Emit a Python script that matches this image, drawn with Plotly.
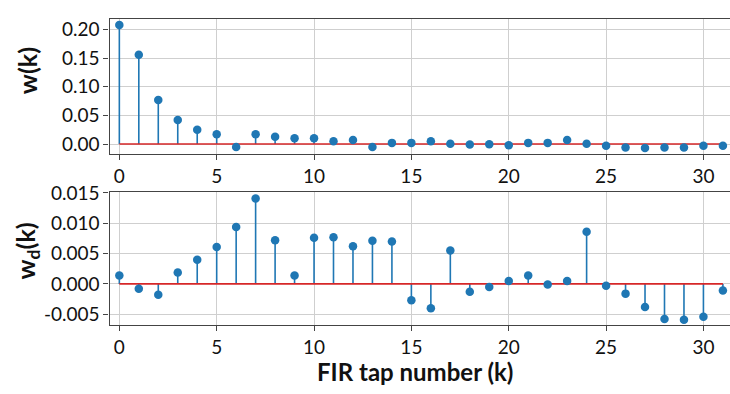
import plotly.graph_objects as go

k = list(range(32))
w = [0.208, 0.156, 0.077, 0.042, 0.025, 0.017, -0.005, 0.017, 0.0126, 0.010,
     0.010, 0.005, 0.007, -0.005, 0.002, 0.002, 0.005, 0.0006, -0.001, -0.0006,
     -0.002, 0.002, 0.002, 0.007, 0.0006, -0.003, -0.006, -0.007, -0.006, -0.006,
     -0.003, -0.003]
wd = [0.0014, -0.0008, -0.0018, 0.0019, 0.0040, 0.0061, 0.0094, 0.0141, 0.0072, 0.0014,
      0.0076, 0.0077, 0.0062, 0.0071, 0.0070, -0.0027, -0.0040, 0.0055, -0.0013, -0.0005,
      0.0005, 0.0014, -0.0001, 0.0005, 0.0086, -0.0003, -0.0016, -0.0038, -0.0058, -0.0059,
      -0.0054, -0.0011]

x_ticks = [0, 5, 10, 15, 20, 25, 30]
y1_ticks = [0.0, 0.05, 0.10, 0.15, 0.20]
y1_text = ["0.00", "0.05", "0.10", "0.15", "0.20"]
y2_ticks = [-0.005, 0.0, 0.005, 0.010, 0.015]
y2_text = ["-0.005", "0.000", "0.005", "0.010", "0.015"]
y1_title = "<b>w(k)</b>"
y2_title = "<b>w<sub>d</sub>(k)</b>"
x_title = "<b>FIR tap number (k)</b>"

BLUE = "#1f77b4"
RED = "#d62728"
W, H = 730, 394
FONT = "Lato"


def stems(xs, ys):
    sx, sy = [], []
    for a, b in zip(xs, ys):
        sx += [a, a, None]
        sy += [0, b, None]
    return sx, sy


fig = go.Figure()
for vals, xa, ya in [(w, "x", "y"), (wd, "x2", "y2")]:
    sx, sy = stems(k, vals)
    fig.add_trace(go.Scatter(x=sx, y=sy, mode="lines", line=dict(color=BLUE, width=1.6),
                             xaxis=xa, yaxis=ya, hoverinfo="skip", showlegend=False))
    fig.add_trace(go.Scatter(x=[k[0], k[-1]], y=[0, 0], mode="lines",
                             line=dict(color=RED, width=1.6),
                             xaxis=xa, yaxis=ya, showlegend=False))
    fig.add_trace(go.Scatter(x=k, y=vals, mode="markers",
                             marker=dict(color=BLUE, size=8.5),
                             xaxis=xa, yaxis=ya, showlegend=False, cliponaxis=False))

x0 = 109.6 / W
xr = [-0.5, -0.5 + (W - 109.6) / 19.47]
ax_common = dict(showline=True, linecolor="#444", linewidth=1.3, gridcolor="#cfcfcf",
                 gridwidth=1, ticks="outside", ticklen=5, tickcolor="#444",
                 zeroline=False, tickfont=dict(family=FONT, size=19, color="#111"))

title_font = dict(family=FONT, size=25, color="#111")
fig.update_layout(
    width=W, height=H, margin=dict(l=0, r=0, t=0, b=0),
    plot_bgcolor="white", paper_bgcolor="white",
    xaxis=dict(domain=[x0, 1], range=xr, tickvals=x_ticks, anchor="y",
               mirror=True, **ax_common),
    yaxis=dict(domain=[1 - 146.5 / H, 1 - 7 / H],
               range=[-0.0175, 0.2188], tickvals=y1_ticks, ticktext=y1_text, anchor="x",
               **ax_common),
    xaxis2=dict(domain=[x0, 1], range=xr, tickvals=x_ticks, anchor="y2",
                mirror=True, **ax_common),
    yaxis2=dict(domain=[1 - 323 / H, 1 - 186 / H],
                range=[-0.0068, 0.0151], tickvals=y2_ticks, ticktext=y2_text, anchor="x2",
                **ax_common),
    annotations=[
        dict(text=y1_title, xref="paper", yref="paper", x=27 / W, y=1 - 61 / H,
             xanchor="center", yanchor="middle", textangle=-90, showarrow=False,
             font=title_font),
        dict(text=y2_title, xref="paper", yref="paper", x=27 / W, y=1 - 247 / H,
             xanchor="center", yanchor="middle", textangle=-90, showarrow=False,
             font=title_font),
        dict(text=x_title, xref="paper", yref="paper", x=415 / W, y=1 - 371 / H,
             xanchor="center", yanchor="middle", showarrow=False,
             font=dict(family=FONT, size=24, color="#111")),
    ],
)

fig.write_html("out.html")
